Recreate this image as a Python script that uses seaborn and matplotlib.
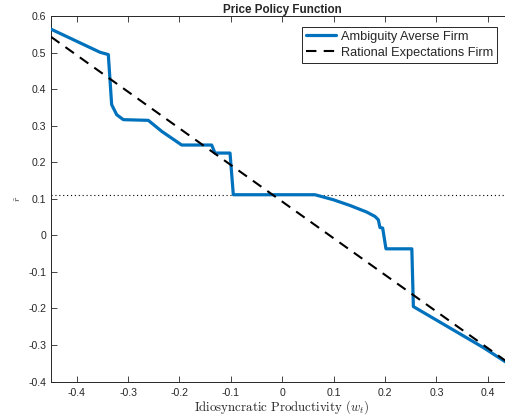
import matplotlib
matplotlib.use("Agg")
import matplotlib.pyplot as plt
import seaborn as sns
import numpy as np
import pandas as pd

# --- data ---
x_ambiguity = [-0.45, -0.3547, -0.3385, -0.332, -0.3222, -0.3093, -0.2607, -0.2346, -0.1957,
               -0.1374, -0.131, -0.1017, -0.0953, 0.0636, 0.0992, 0.1317, 0.1642, 0.1804,
               0.1868, 0.190, 0.1953, 0.2017, 0.252, 0.255, 0.391, 0.435]
y_ambiguity = [0.564, 0.5008, 0.4945, 0.3575, 0.330, 0.3164, 0.3145, 0.2844, 0.247,
               0.247, 0.225, 0.225, 0.111, 0.111, 0.0973, 0.0816, 0.0636, 0.0515,
               0.0425, 0.0214, 0.0197, -0.037, -0.037, -0.195, -0.307, -0.347]
x_rational = [-0.45, 0.435]
y_rational = [0.543, -0.344]
steady_level = 0.11

x_ticks = [-0.4, -0.3, -0.2, -0.1, 0, 0.1, 0.2, 0.3, 0.4]
x_ticklabels = ["-0.4", "-0.3", "-0.2", "-0.1", "0", "0.1", "0.2", "0.3", "0.4"]
y_ticks = [-0.4, -0.3, -0.2, -0.1, 0, 0.1, 0.2, 0.3, 0.4, 0.5, 0.6]
y_ticklabels = ["-0.4", "-0.3", "-0.2", "-0.1", "0", "0.1", "0.2", "0.3", "0.4", "0.5", "0.6"]

sns.set_style("ticks")
plt.rcParams['font.family'] = ['Liberation Sans', 'DejaVu Sans']
plt.rcParams['mathtext.fontset'] = 'cm'

fig = plt.figure(figsize=(5.06, 4.17), dpi=100)
ax = fig.add_axes([51/506, (417-381.5)/417, 462/506, 365.5/417])

axis_color = "#262626"
ax.axhline(steady_level, color="black", linestyle=(0, (1, 2.5)), linewidth=0.8, zorder=1)

df_a = pd.DataFrame({"x": x_ambiguity, "y": y_ambiguity})
df_r = pd.DataFrame({"x": x_rational, "y": y_rational})
sns.lineplot(data=df_a, x="x", y="y", sort=False, estimator=None, ax=ax,
             color="#0072BD", linewidth=2.3, label="Ambiguity Averse Firm", zorder=3)
sns.lineplot(data=df_r, x="x", y="y", sort=False, estimator=None, ax=ax,
             color="black", linewidth=1.5, linestyle=(0, (5, 3.5)),
             label="Rational Expectations Firm", zorder=4)

ax.set_xlim(-0.45, -0.45 + 462/514)
ax.set_ylim(-0.4, 0.6)
ax.set_xticks(x_ticks)
ax.set_xticklabels(x_ticklabels)
ax.set_yticks(y_ticks)
ax.set_yticklabels(y_ticklabels)

ax.tick_params(direction="in", length=4, width=0.6, colors=axis_color, labelsize=7.6,
               top=True, right=False, labelcolor="#262626")
ax.tick_params(axis="x", pad=5)
for side in ["left", "bottom", "top"]:
    ax.spines[side].set_color(axis_color)
    ax.spines[side].set_linewidth(0.7)
    ax.spines[side].set_visible(True)
ax.spines["right"].set_visible(False)

ax.set_title("Price Policy Function", fontsize=8.4, fontweight="bold", pad=2)
ax.set_xlabel(r"$\mathrm{Idiosyncratic\ Productivity\ (}w_t\mathrm{)}$", fontsize=9.3, labelpad=0)
ax.set_ylabel(r"$\tilde{r}$", fontsize=7, labelpad=4)

leg = ax.legend(loc="upper right", bbox_to_anchor=((497-51)/462, 1 - 11/365.5), fontsize=9.2,
                frameon=True, fancybox=False, framealpha=1, edgecolor="#262626",
                handlelength=2.4, borderpad=0.3, labelspacing=0.3, handletextpad=0.35,
                borderaxespad=0)
leg.get_frame().set_linewidth(0.7)

fig.savefig("out.png", dpi=100)
